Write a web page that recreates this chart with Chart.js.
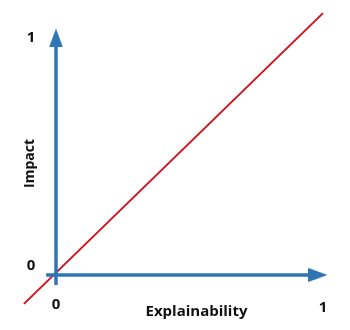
<!DOCTYPE html>
<html>
<head>
<meta charset="utf-8">
<script src="https://cdn.jsdelivr.net/npm/chart.js@4"></script>
<style>
html,body{margin:0;padding:0;background:#fff;}
#wrap{width:350px;height:330px;}
</style>
</head>
<body>
<div id="wrap"><canvas id="c" width="350" height="330"></canvas></div>
<script>
// ---- data ----
const tickValues = [0, 1];
const tickLabels = ['0', '1'];
const xAxisTitle = 'Explainability';
const yAxisTitle = 'Impact';
const diagonalX = [-0.12, 1.0];
const diagonalY = [-0.122, 1.105];
const xAxisLineX = [-0.037, 0.955];
const yAxisLineY = [-0.042, 0.97];
const xArrowAt = 0.981;
const yArrowAt = 1.0;

// ---- styles ----
const BLUE = '#2e75b6';
const RED = '#d0121b';
const FONT = 'bold 15px "Open Sans", Lato, sans-serif';

function arrowHead(w, h, color) {
  const c = document.createElement('canvas');
  c.width = w; c.height = h;
  const g = c.getContext('2d');
  g.fillStyle = color;
  g.beginPath();
  g.moveTo(w / 2, 0);
  g.lineTo(w, h);
  g.lineTo(0, h);
  g.closePath();
  g.fill();
  return c;
}
const arrowImg = arrowHead(14, 19, BLUE);

const labelsPlugin = {
  id: 'axisLabels',
  afterDatasetsDraw(chart) {
    const ctx = chart.ctx;
    const xs = chart.scales.x, ys = chart.scales.y;
    const ox = xs.getPixelForValue(0), oy = ys.getPixelForValue(0);
    ctx.save();
    ctx.fillStyle = '#111';
    ctx.font = FONT;
    ctx.textAlign = 'center';
    ctx.textBaseline = 'middle';
    const yOff = [-9, 0];
    tickValues.forEach((v, i) => {
      ctx.fillText(tickLabels[i], ox - 25, ys.getPixelForValue(v) + yOff[i]);
    });
    const xOff = [30, 33];
    tickValues.forEach((v, i) => {
      ctx.fillText(tickLabels[i], xs.getPixelForValue(v), oy + xOff[i]);
    });
    ctx.fillText(xAxisTitle, (ox + xs.getPixelForValue(1)) / 2 + 7, oy + 37);
    ctx.font = 'bold 14px "Open Sans", Lato, sans-serif';
    ctx.translate(ox - 26, (oy + ys.getPixelForValue(1)) / 2 + 7);
    ctx.rotate(-Math.PI / 2);
    ctx.fillText(yAxisTitle, 0, 0);
    ctx.restore();
  }
};

new Chart(document.getElementById('c'), {
  type: 'scatter',
  data: {
    datasets: [
      {
        data: yAxisLineY.map(y => ({x: 0, y})),
        showLine: true, borderColor: BLUE, borderWidth: 3.5, pointRadius: 0, borderCapStyle: 'butt'
      },
      {
        data: xAxisLineX.map(x => ({x, y: 0})),
        showLine: true, borderColor: BLUE, borderWidth: 3.5, pointRadius: 0, borderCapStyle: 'butt'
      },
      {
        data: [{x: 0, y: yArrowAt}, {x: xArrowAt, y: 0}],
        pointStyle: arrowImg, rotation: [0, 90], pointRadius: 9
      },
      {
        data: diagonalX.map((x, i) => ({x, y: diagonalY[i]})),
        showLine: true, borderColor: RED, borderWidth: 2, pointRadius: 0
      }
    ]
  },
  options: {
    responsive: false,
    animation: false,
    devicePixelRatio: 1,
    layout: {padding: 0, autoPadding: false},
    plugins: {legend: {display: false}, tooltip: {enabled: false}},
    scales: {
      x: {type: 'linear', display: false, min: -0.2097, max: 1.1011},
      y: {type: 'linear', display: false, min: -0.2321, max: 1.1603}
    }
  },
  plugins: [labelsPlugin]
});
</script>
</body>
</html>
